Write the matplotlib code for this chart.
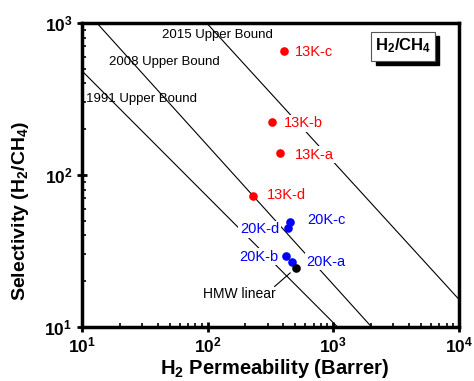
import math

import matplotlib
matplotlib.use("Agg")
import matplotlib.pyplot as plt
from matplotlib.patches import Rectangle
from matplotlib.ticker import FuncFormatter, LogLocator

plt.rcParams['font.family'] = ['Liberation Sans', 'DejaVu Sans']
plt.rcParams['mathtext.fontset'] = 'custom'
plt.rcParams['mathtext.rm'] = 'Liberation Sans'
plt.rcParams['mathtext.bf'] = 'Liberation Sans:bold'
plt.rcParams['mathtext.it'] = 'Liberation Sans:italic'

# --- data ---
red_names = ["13K-c", "13K-b", "13K-a", "13K-d"]
red_perm = [407, 323, 379, 228]
red_sel = [657, 222, 140, 73]

blue_names = ["20K-c", "20K-d", "20K-b", "20K-a"]
blue_perm = [452, 437, 417, 471]
blue_sel = [49.3, 44.6, 29.3, 26.8]

hmw_perm = [501]
hmw_sel = [24.3]

# upper bound lines, end points (permeability, selectivity)
bound_names = ["1991 Upper Bound", "2008 Upper Bound", "2015 Upper Bound"]
bound_perm = [[10, 1081], [13.1, 2018], [98, 10000]]
bound_sel = [[483, 10], [1000, 10], [1000, 15.2]]

# label offsets in pixels (dx, dy, ha)
red_offsets = [(11, -1, 'left'), (12, -1, 'left'), (15, -2, 'left'), (14, 1, 'left')]
blue_offsets = [(17, 2, 'left'), (-9, -1, 'right'), (-7, -1, 'right'), (14, 0, 'left')]

fig = plt.figure(figsize=(4.74, 3.81), dpi=100)
ax = fig.add_axes([0.173, 0.142, 0.795, 0.798])
ax.set_xscale('log')
ax.set_yscale('log')
ax.set_xlim(10, 1e4)
ax.set_ylim(10, 1e3)

for px, sy in zip(bound_perm, bound_sel):
    ax.plot(px, sy, color='black', lw=0.8)

bound_text_pos = [(0.010, 0.749), (0.072, 0.871), (0.213, 0.961)]
for name, (tx, ty) in zip(bound_names, bound_text_pos):
    ax.text(tx, ty, name, transform=ax.transAxes, fontsize=9.5,
            ha='left', va='center')

ax.plot(red_perm, red_sel, 'o', color='#ff0000', ms=6.2, mec='none', zorder=4)
ax.plot(blue_perm, blue_sel, 'o', color='#0000ff', ms=6.2, mec='none', zorder=4)
ax.plot(hmw_perm, hmw_sel, 'o', color='black', ms=6.2, mec='none', zorder=4)

lbl_box = dict(facecolor='white', edgecolor='none', pad=1)
for name, x, y, (dx, dy, ha) in zip(red_names, red_perm, red_sel, red_offsets):
    ax.annotate(name, (x, y), xytext=(dx, dy), textcoords='offset pixels',
                ha=ha, va='center', color='#ff0000', fontsize=10.5, bbox=lbl_box)
for name, x, y, (dx, dy, ha) in zip(blue_names, blue_perm, blue_sel, blue_offsets):
    ax.annotate(name, (x, y), xytext=(dx, dy), textcoords='offset pixels',
                ha=ha, va='center', color='#0000ff', fontsize=10.5, bbox=lbl_box)

ax.annotate("HMW linear", (hmw_perm[0], hmw_sel[0]), xytext=(-56, -26),
            textcoords='offset pixels', ha='center', va='center', fontsize=10,
            bbox=dict(facecolor='white', edgecolor='none', pad=0.5),
            arrowprops=dict(arrowstyle='-', lw=0.8, color='black',
                            shrinkA=0, shrinkB=5, relpos=(0.97, 1.0)))

# legend-like box with shadow
bx, by, bw, bh = 0.768, 0.876, 0.168, 0.095
ax.add_patch(Rectangle((bx + 0.011, by - 0.013), bw, bh, transform=ax.transAxes,
                       facecolor='black', edgecolor='black', zorder=5))
ax.add_patch(Rectangle((bx, by), bw, bh, transform=ax.transAxes,
                       facecolor='white', edgecolor='#555555', lw=0.8, zorder=6))
ax.text(bx + bw / 2, by + bh / 2, r'$\mathbf{H_2/CH_4}$', transform=ax.transAxes,
        ha='center', va='center', fontsize=12, zorder=7)

fmt = FuncFormatter(lambda v, p: r'$\mathbf{10^{%d}}$' % round(math.log10(v)))
ax.xaxis.set_major_formatter(fmt)
ax.yaxis.set_major_formatter(fmt)
ax.xaxis.set_major_locator(LogLocator(base=10, numticks=10))
ax.yaxis.set_major_locator(LogLocator(base=10, numticks=10))
ax.tick_params(which='major', direction='inout', length=7, width=2, labelsize=12.5)
ax.tick_params(which='minor', direction='in', length=3, width=1.2)
ax.tick_params(axis='x', which='major', pad=3)

for s in ax.spines.values():
    s.set_linewidth(2.5)

ax.set_xlabel(r'$\mathbf{H_2}$ Permeability (Barrer)', fontsize=14.5, fontweight='bold')
ax.xaxis.set_label_coords(0.51, -0.098)
ax.xaxis.label.set_va('top')
ax.set_ylabel(r'Selectivity ($\mathbf{H_2/CH_4}$)', fontsize=14, fontweight='bold')
ax.yaxis.set_label_coords(-0.135, 0.38)

fig.savefig('out.png', dpi=100)
